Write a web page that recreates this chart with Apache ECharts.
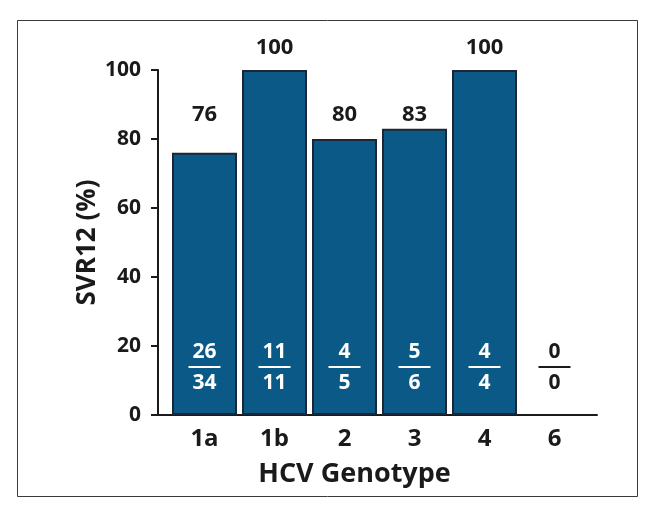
<!DOCTYPE html>
<html>
<head>
<meta charset="utf-8">
<script src="https://cdn.jsdelivr.net/npm/echarts@6/dist/echarts.min.js"></script>
<style>
  html, body { margin: 0; padding: 0; background: #fff; }
  #chart { width: 659px; height: 521px; }
</style>
</head>
<body>
<div id="chart"></div>
<script>
// HCV genotype, SVR12 rate and n/N per genotype
const categories = ['1a', '1b', '2', '3', '4', '6']
const svr = [76, 100, 80, 83, 100, 0]
const cured = [26, 11, 4, 5, 4, 0]
const treated = [34, 11, 5, 6, 4, 0]
const yTicks = [0, 20, 40, 60, 80, 100]

const FONT = '"Open Sans", "Noto Sans", sans-serif'
const barColor = '#0b5987'
const edgeColor = '#1c2733'
const ink = '#1a1a1a'

const chart = echarts.init(document.getElementById('chart'))

// where the labels sit, in axis units
const fractionLevel = 13.9
const labelLow = 87
const labelHigh = 106.4

const option = {
  animation: false,
  grid: [
    { left: 169.5, right: 69.5, top: 70, bottom: 106 },
    { left: 158, right: 62, top: 70, bottom: 106 }
  ],
  graphic: [{
    type: 'rect',
    shape: { x: 17.5, y: 20.5, width: 620, height: 476 },
    style: { fill: 'none', stroke: '#3a3a3a', lineWidth: 1 },
    silent: true
  }],
  xAxis: [
    {
      type: 'category',
      gridIndex: 0,
      data: categories,
      axisLine: { show: false },
      axisTick: { show: false },
      axisLabel: { color: ink, fontFamily: FONT, fontWeight: 'bold', fontSize: 24, margin: 12 },
      name: 'HCV Genotype',
      nameLocation: 'middle',
      nameGap: 46,
      nameTextStyle: { color: ink, fontFamily: FONT, fontWeight: 'bold', fontSize: 27, padding: [0, 50, 0, 0] }
    },
    {
      type: 'value',
      gridIndex: 1,
      min: 0,
      max: 1,
      axisLine: { show: true, lineStyle: { color: ink, width: 2 } },
      axisTick: { show: false },
      axisLabel: { show: false },
      splitLine: { show: false }
    }
  ],
  yAxis: [
    {
      type: 'value',
      gridIndex: 0,
      min: 0,
      max: 100,
      show: false
    },
    {
      type: 'value',
      gridIndex: 1,
      min: 0,
      max: 100,
      interval: 20,
      axisLine: { show: true, lineStyle: { color: ink, width: 2 } },
      axisTick: { show: true, length: 7, lineStyle: { color: ink, width: 2 } },
      axisLabel: {
        color: ink, fontFamily: FONT, fontWeight: 'bold', fontSize: 21, margin: 17,
        formatter: v => yTicks.includes(v) ? String(v) : ''
      },
      splitLine: { show: false },
      name: 'SVR12 (%)',
      nameLocation: 'middle',
      nameGap: 57,
      nameMoveOverlap: false,
      nameTextStyle: { color: ink, fontFamily: FONT, fontWeight: 'bold', fontSize: 26 }
    }
  ],
  series: [
    {
      type: 'bar',
      xAxisIndex: 0,
      yAxisIndex: 0,
      barWidth: 65,
      data: svr.map((v, i) => treated[i] ? v : '-'),
      itemStyle: { color: barColor, borderColor: edgeColor, borderWidth: 2 }
    },
    {
      // value labels above the bars
      type: 'custom',
      xAxisIndex: 0,
      yAxisIndex: 0,
      data: svr.map((v, i) => [i, v]),
      renderItem: (params, api) => {
        const i = params.dataIndex
        if (!treated[i]) return null
        const p = api.coord([i, svr[i] >= 90 ? labelHigh : labelLow])
        return {
          type: 'text',
          x: p[0],
          y: p[1],
          style: {
            text: String(svr[i]),
            align: 'center',
            verticalAlign: 'middle',
            fill: ink,
            font: 'bold 22px ' + FONT
          }
        }
      }
    },
    {
      // n / N fractions inside the bars
      type: 'custom',
      xAxisIndex: 0,
      yAxisIndex: 0,
      z: 5,
      data: cured.map((v, i) => [i, fractionLevel]),
      renderItem: (params, api) => {
        const i = params.dataIndex
        const p = api.coord([i, fractionLevel])
        const c = treated[i] ? '#ffffff' : ink
        const font = 'bold 21px ' + FONT
        return {
          type: 'group',
          children: [
            { type: 'text', x: p[0], y: p[1] - 15, style: { text: String(cured[i]), align: 'center', verticalAlign: 'middle', fill: c, font: font } },
            { type: 'line', shape: { x1: p[0] - 16, y1: p[1], x2: p[0] + 16, y2: p[1] }, style: { stroke: c, lineWidth: 2 } },
            { type: 'text', x: p[0], y: p[1] + 16, style: { text: String(treated[i]), align: 'center', verticalAlign: 'middle', fill: c, font: font } }
          ]
        }
      }
    }
  ]
}

chart.setOption(option)
</script>
</body>
</html>
